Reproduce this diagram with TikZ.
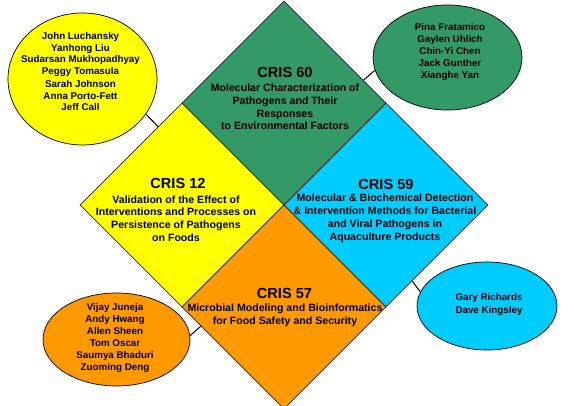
\documentclass[tikz,border=0pt]{standalone}
\usepackage{fontspec}
\setmainfont{Liberation Sans}
\usetikzlibrary{shapes.geometric}
\definecolor{crisgreen}{HTML}{339966}
\definecolor{crisyellow}{HTML}{FFFF00}
\definecolor{criscyan}{HTML}{00CCFF}
\definecolor{crisorange}{HTML}{FF9900}
\begin{document}
\begin{tikzpicture}[x=1pt,y=-1pt,
  quad/.style={diamond, aspect=1, draw=black!85, line width=0.6pt, inner sep=0pt,
    minimum width=204pt, minimum height=204pt},
  team/.style={ellipse, draw=black, line width=0.7pt, inner sep=0pt},
  names/.style={font=\bfseries\fontsize{9.8}{12}\selectfont, align=center, inner sep=0pt},
  crisid/.style={font=\bfseries\fontsize{14.6}{16}\selectfont, inner sep=0pt},
  topic/.style={font=\bfseries\fontsize{10.6}{12.7}\selectfont, align=center, inner sep=0pt},
  link/.style={draw=black, line width=1pt}]
\useasboundingbox (0,0) rectangle (574,406);

% four project diamonds
\node[quad, fill=criscyan]   (d59) at (386,205) {};
\node[quad, fill=crisyellow] (d12) at (182,205) {};
\node[quad, fill=crisgreen]  (d60) at (284,103) {};
\node[quad, fill=crisorange] (d57) at (284,307) {};

% team ellipses
\node[team, fill=crisyellow, minimum width=149pt, minimum height=132pt] (e12) at (82.5,79) {};
\node[team, fill=crisgreen,  minimum width=149pt, minimum height=105pt] (e60) at (447.5,57.5) {};
\node[team, fill=criscyan,   minimum width=140pt, minimum height=88pt]  (e59) at (487,306) {};
\node[team, fill=crisorange, minimum width=147pt, minimum height=93pt]  (e57) at (116.5,339.5) {};

% short links from each team to its project
\draw[link] (e12.-29)  -- (d12.107);
\draw[link] (e60.190)  -- (d60.16);
\draw[link] (e59.168)  -- (d59.-71);
\draw[link] (e57.3)    -- (d57.193);

% project titles
\node[crisid] (t60) at (285,72)  {CRIS 60};
\node[topic]  (b60) at (285,107) {Molecular Characterization of\\Pathogens and Their\\Responses\\to Environmental Factors};

\node[crisid] (t12) at (178,183) {CRIS 12};
\node[topic]  (b12) at (176,218.5) {Validation of the Effect of\\Interventions and Processes on\\Persistence of Pathogens\\on Foods};

\node[crisid] (t59) at (386,184) {CRIS 59};
\node[topic, font=\bfseries\fontsize{10.6}{13}\selectfont] (b59) at (385,218.5) {Molecular \& Biochemical Detection\\\& Intervention Methods for Bacterial\\and Viral Pathogens in\\Aquaculture Products};

\node[crisid] (t57) at (284.5,293) {CRIS 57};
\node[topic]  (b57) at (285,315.5) {Microbial Modeling and Bioinformatics\\for Food Safety and Security};

% team members
\node[names] (n12) at (80.5,71.5) {John Luchansky\\Yanhong Liu\\Sudarsan Mukhopadhyay\\Peggy Tomasula\\Sarah Johnson\\Anna Porto-Fett\\Jeff Call};
\node[names] (n60) at (450,51.5) {Pina Fratamico\\Gaylen Uhlich\\Chin-Yi Chen\\Jack Gunther\\Xianghe Yan};
\node[names, font=\bfseries\fontsize{9.8}{13}\selectfont] (n59) at (489,304.5) {Gary Richards\\Dave Kingsley};
\node[names] (n57) at (115,338) {Vijay Juneja\\Andy Hwang\\Allen Sheen\\Tom Oscar\\Saumya Bhaduri\\Zuoming Deng};
\end{tikzpicture}
\end{document}
